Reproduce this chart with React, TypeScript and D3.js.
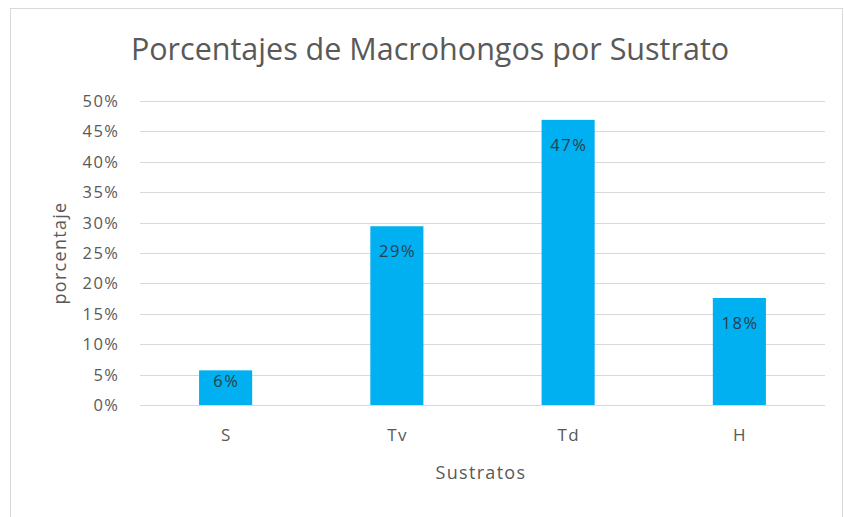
import React from "react";
import * as d3 from "d3";

const categories = ["S", "Tv", "Td", "H"];
const values = [0.057, 0.294, 0.469, 0.176];
const valueLabels = ["6%", "29%", "47%", "18%"];
const yTicks = [0, 0.05, 0.1, 0.15, 0.2, 0.25, 0.3, 0.35, 0.4, 0.45, 0.5];

const title = "Porcentajes de Macrohongos por Sustrato";
const xTitle = "Sustratos";
const yTitle = "porcentaje";

export default function App() {
  const W = 844, H = 517;
  const left = 140, right = 825, top = 101, bottom = 405;
  const x = d3.scaleBand<string>().domain(categories).range([left, right]).paddingInner(0.69).paddingOuter(0.345);
  const y = d3.scaleLinear().domain([0, 0.5]).range([bottom, top]);
  const fmt = d3.format(".0%");
  const font = "'Open Sans', sans-serif";
  const grey = "#595959";
  return (
    <svg width={W} height={H} style={{ position: "absolute", left: 0, top: 0, background: "#fff" }}>
      <rect x={10.5} y={8.5} width={832} height={520} fill="#fff" stroke="#d9d9d9" />
      <text x={430} y={60} textAnchor="middle" fontFamily={font} fontSize={30.5} fill={grey}>{title}</text>
      {yTicks.map((t) => (
        <g key={t}>
          <line x1={left} x2={right} y1={Math.round(y(t)) + 0.5} y2={Math.round(y(t)) + 0.5} stroke="#d9d9d9" />
          <text x={118 + 1.5} y={y(t)} dy="0.36em" textAnchor="end" fontFamily={font} fontSize={16.5} letterSpacing={1.5} fill={grey}>{fmt(t)}</text>
        </g>
      ))}
      {categories.map((c, i) => {
        const bx = x(c)!;
        const by = y(values[i]);
        const h = bottom - by;
        const off = Math.min(25, h * 0.3);
        return (
          <g key={c}>
            <rect x={bx} y={by} width={x.bandwidth()} height={h} fill="#00B0F0" />
            <text x={bx + x.bandwidth() / 2 + 0.75} y={by + off} dy="0.36em" textAnchor="middle" fontFamily={font} fontSize={16.5} letterSpacing={1.5} fill="#2a3f4d">{valueLabels[i]}</text>
            <text x={bx + x.bandwidth() / 2 + 0.75} y={435} dy="0.36em" textAnchor="middle" fontFamily={font} fontSize={17} letterSpacing={1.5} fill={grey}>{c}</text>
          </g>
        );
      })}
      <text x={481} y={473} dy="0.36em" textAnchor="middle" fontFamily={font} fontSize={18} letterSpacing={1.3} fill={grey}>{xTitle}</text>
      <text transform={`translate(60,253) rotate(-90)`} dy="0.36em" textAnchor="middle" fontFamily={font} fontSize={18} letterSpacing={1.3} fill={grey}>{yTitle}</text>
    </svg>
  );
}
